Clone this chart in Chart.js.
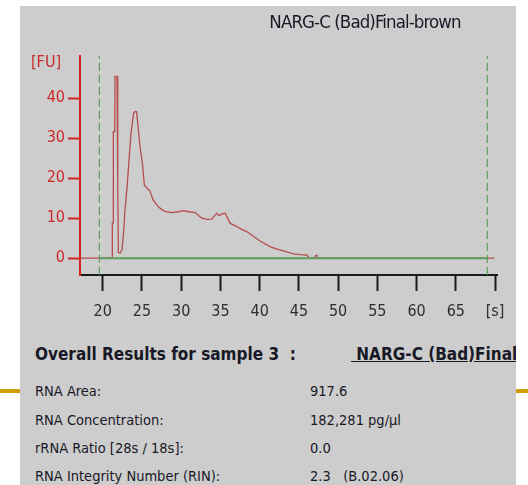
<!DOCTYPE html>
<html>
<head>
<meta charset="utf-8">
<script src="https://cdn.jsdelivr.net/npm/chart.js@4.4.0/dist/chart.umd.min.js"></script>
<style>
    body { margin: 0; width: 528px; height: 485px; background: #fff; position: relative; overflow: hidden;
        font-family: "DejaVu Sans Condensed", "Liberation Sans Narrow", sans-serif; }
    .gold { position: absolute; top: 389px; height: 4px; background: #cf9e0c; }
    #panel { position: absolute; left: 20px; top: 6px; width: 496px; height: 479px; background: #cdcdcd; overflow: hidden; }
    #chartBox { position: absolute; left: -20px; top: -6px; width: 528px; height: 330px; }
    .txt { position: absolute; white-space: pre; color: #181826; }
</style>
</head>
<body>
<div class="gold" style="left:0;width:20px"></div>
<div class="gold" style="left:516px;width:12px"></div>
<div id="panel">
    <div id="chartBox"><canvas id="bioChart" width="528" height="330"></canvas></div>
    <div class="txt" style="left:195px;top:5px;width:300px;text-align:center;font-size:18.5px;letter-spacing:-0.9px">NARG-C (Bad)Final-brown</div>
    <div class="txt" style="left:11px;top:46px;font-size:16px;color:#cc2a2a">[FU]</div>
    <div class="txt" style="left:15px;top:338px;font-size:17px;font-weight:bold">Overall Results for sample 3  :</div>
    <div class="txt" style="left:331px;top:338px;font-size:17px;font-weight:bold;text-decoration:underline"> NARG-C (Bad)Final</div>
    <div class="txt" style="left:15px;top:377px;font-size:14.5px">RNA Area:</div>
    <div class="txt" style="left:290px;top:377px;font-size:14.5px">917.6</div>
    <div class="txt" style="left:15px;top:406px;font-size:14.5px">RNA Concentration:</div>
    <div class="txt" style="left:290px;top:406px;font-size:14.5px">182,281 pg/µl</div>
    <div class="txt" style="left:15px;top:434px;font-size:14.5px">rRNA Ratio [28s / 18s]:</div>
    <div class="txt" style="left:290px;top:434px;font-size:14.5px">0.0</div>
    <div class="txt" style="left:15px;top:462px;font-size:14.5px">RNA Integrity Number (RIN):</div>
    <div class="txt" style="left:290px;top:462px;font-size:14.5px">2.3   (B.02.06)</div>
</div>
<script>
// electropherogram trace: migration time [s] vs fluorescence [FU]
const timeS = [17.1, 21.22, 21.22, 21.35, 21.35, 21.53, 21.57, 21.82, 21.91, 21.99, 22.2, 22.46, 22.68, 22.84,
    23.1, 23.35, 23.61, 23.95, 24.12, 24.31, 24.5, 24.75, 25.05, 25.3, 25.65, 26.03, 26.41, 27.05, 27.5, 27.94,
    28.83, 29.6, 30.27, 31.0, 31.76, 32.62, 33.3, 33.89, 34.53, 34.82, 35.17, 35.59, 36.22, 37.08, 37.7, 38.35,
    39.2, 40.05, 41.32, 42.1, 43.02, 44.29, 45.2, 46.0, 46.33, 47.02, 47.14, 47.3, 47.44, 69.9];
const fluor = [0, 0, 8.8, 8.8, 31.6, 31.6, 45.4, 45.4, 17.6, 1.4, 1.3, 2.1, 7.1, 12.1,
    17.8, 24.6, 31.3, 36.3, 36.6, 36.6, 32.9, 27.9, 23.8, 18.3, 17.5, 16.7, 14.6, 12.9, 12.2, 11.7,
    11.4, 11.6, 11.9, 11.6, 11.4, 10.0, 9.7, 9.75, 11.25, 10.6, 11.0, 11.3, 8.75, 7.9, 7.2, 6.65,
    5.5, 4.3, 2.9, 2.3, 1.8, 1.1, 0.9, 0.8, 0, 0, 0.7, 0.7, 0, 0];

const markerTimes = [19.57, 69.02];   // lower / upper marker (green dashed)
const xTicks = [20, 25, 30, 35, 40, 45, 50, 55, 60, 65, 70];
const yTicks = [0, 10, 20, 30, 40];
const xRange = [17.1, 70.25];
const yRange = [-4.2, 50.5];

const green = '#5e9c5e';

const ctx = document.getElementById('bioChart').getContext('2d');
new Chart(ctx, {
    type: 'line',
    data: {
        datasets: [
            {
                data: timeS.map((t, i) => ({x: t, y: fluor[i]})),
                borderColor: 'rgba(182,62,62,0.9)',
                borderWidth: 1.3,
                pointRadius: 0,
                order: 2,
            },
            {
                data: [{x: markerTimes[0], y: 0}, {x: markerTimes[1], y: 0}],
                borderColor: green,
                borderWidth: 2,
                pointRadius: 0,
                order: 1,
            },
            ...markerTimes.map(t => ({
                data: [{x: t, y: yRange[0]}, {x: t, y: yRange[1]}],
                borderColor: green,
                borderWidth: 1.2,
                borderDash: [8, 4],
                pointRadius: 0,
                order: 1,
            })),
        ]
    },
    options: {
        responsive: false,
        animation: false,
        layout: {padding: {left: 0, top: 56, right: 31, bottom: 0}},
        plugins: {legend: {display: false}, tooltip: {enabled: false}},
        scales: {
            x: {
                type: 'linear',
                min: xRange[0],
                max: xRange[1],
                afterFit: s => { s.height = 55 },
                afterBuildTicks: s => { s.ticks = xTicks.map(v => ({value: v})) },
                border: {color: '#1a1a1a', width: 2},
                grid: {drawOnChartArea: false, drawTicks: true, tickLength: 16, tickColor: '#1a1a1a', tickWidth: 2},
                ticks: {
                    color: '#2e2e2e',
                    padding: 11,
                    maxRotation: 0,
                    autoSkip: false,
                    font: {family: '"DejaVu Sans Condensed", sans-serif', size: 16},
                    callback: v => v === 70 ? '[s]' : v,
                }
            },
            y: {
                min: yRange[0],
                max: yRange[1],
                afterFit: s => { s.width = 80 },
                afterBuildTicks: s => { s.ticks = yTicks.map(v => ({value: v})) },
                border: {color: '#d42424', width: 2},
                grid: {drawOnChartArea: false, drawTicks: true, tickLength: 12, tickColor: '#d42424', tickWidth: 2},
                ticks: {
                    color: '#cc2a2a',
                    padding: 3,
                    font: {family: '"DejaVu Sans Condensed", sans-serif', size: 16},
                }
            }
        }
    }
});
</script>
</body>
</html>
